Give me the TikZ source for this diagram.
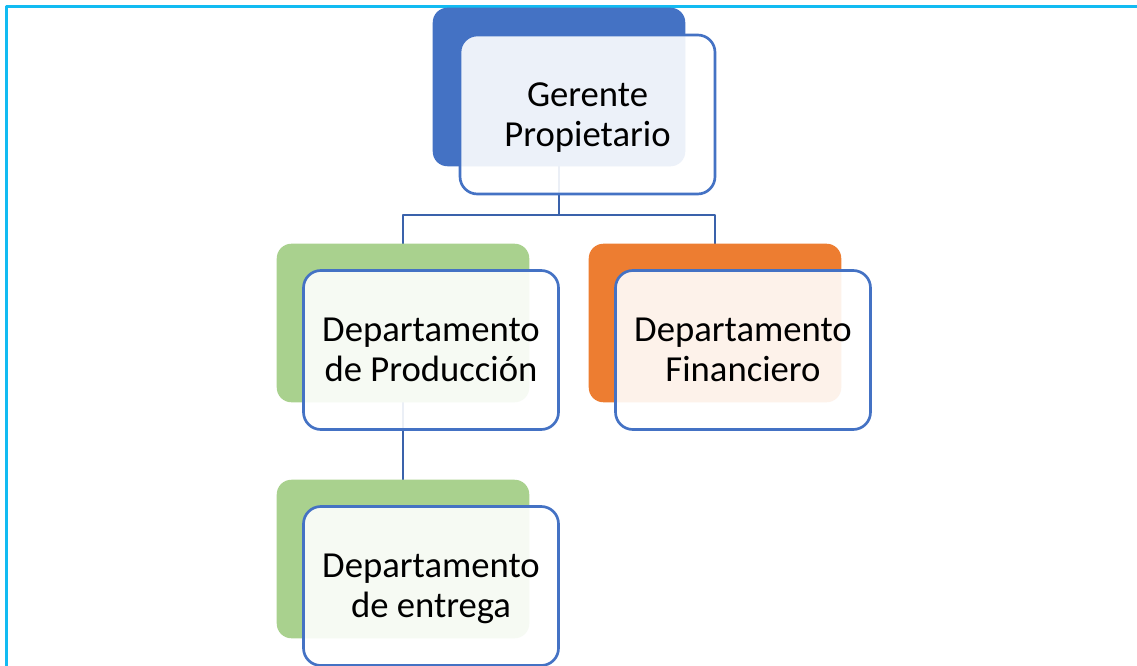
\documentclass[tikz,border=0pt]{standalone}
\usepackage{fontspec}
\setmainfont{Carlito}
\usepackage{tikz}
\usetikzlibrary{positioning}
\definecolor{accblue}{HTML}{4472C4}
\definecolor{accgreen}{HTML}{A9D18E}
\definecolor{accorange}{HTML}{ED7D31}
\definecolor{linkblue}{HTML}{3A62AB}
\definecolor{framecyan}{HTML}{12BBF2}
\tikzset{
  backbox/.style={rectangle,rounded corners=11pt,minimum width=189pt,minimum height=118.5pt,inner sep=0pt},
  frontbox/.style={rectangle,rounded corners=13pt,draw=accblue,line width=2pt,fill=white,fill opacity=0.9,text opacity=1,
    minimum width=191.25pt,minimum height=119.25pt,inner sep=0pt,align=center,text depth=0pt,
    font=\fontsize{27.5}{30}\selectfont},
  link/.style={draw=linkblue,line width=2pt}
}
\begin{document}
\begin{tikzpicture}[x=0.75pt,y=-0.75pt,line cap=butt,line join=round]
  \useasboundingbox (0,0) rectangle (1137,666);
  \clip (0,0) rectangle (1137,666);
  % frame
  \draw[framecyan,line width=2.2pt] (6.5,680) -- (6.5,6.5) -- (1150,6.5);
  % back boxes
  \coordinate (bus) at (559,215);
  \node[backbox] (gerB) at (559,87) {};
  \node[backbox] (prodB) at (403,323) {};
  \node[backbox] (finB) at (715,323) {};
  \node[backbox] (entB) at (403,559) {};
  % connectors
  \draw[link] (gerB.south) -- (bus) -| (prodB.north);
  \draw[link] (bus) -| (finB.north);
  \draw[link] (prodB.south) -- (entB.north);
  \fill[accblue,rounded corners=11pt] (gerB.south west) rectangle (gerB.north east);
  \fill[accgreen,rounded corners=11pt] (prodB.south west) rectangle (prodB.north east);
  \fill[accorange,rounded corners=11pt] (finB.south west) rectangle (finB.north east);
  \fill[accgreen,rounded corners=11pt] (entB.south west) rectangle (entB.north east);
  % front boxes
  \node[frontbox] (ger) at ([shift={(28.5,27.5)}]gerB) {Gerente\\Propietario};
  \node[frontbox] (prod) at ([shift={(28,27)}]prodB) {Departamento\\de Producción};
  \node[frontbox] (fin) at ([shift={(28,27)}]finB) {Departamento\\Financiero};
  \node[frontbox] (ent) at ([shift={(28,27)}]entB) {Departamento\\de entrega};
\end{tikzpicture}
\end{document}
